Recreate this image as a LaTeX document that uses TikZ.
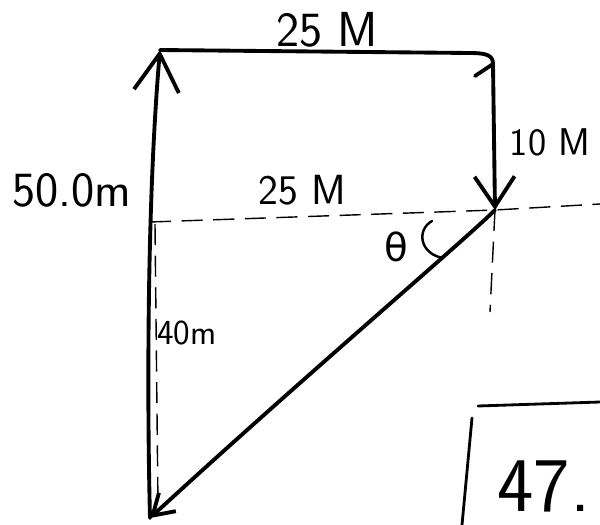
\documentclass[tikz,border=0pt]{standalone}
\usepackage{fontspec}
\newfontfamily\dejavu{DejaVu Sans}
\usetikzlibrary{arrows.meta}

\begin{document}
\begin{tikzpicture}[x=0.02cm,y=-0.02cm,
  vec/.style={line width=2.2pt, line cap=round, line join=round},
  guide/.style={line width=0.8pt, dash pattern=on 12pt off 6pt},
  lbl/.style={font=\sffamily\fontsize{#1pt}{#1pt}\selectfont, inner sep=0pt}]
\useasboundingbox (0,0) rectangle (600,525);
\coordinate (tl) at (160,50);
\coordinate (tr) at (493,64);
\coordinate (mr) at (495,210);
\coordinate (bl) at (150,518);
\coordinate (gl) at (150,222);
\coordinate (gv) at (155,224);
\coordinate (gr) at (600,204);
\coordinate (gb) at (158,505);
\coordinate (gd) at (490,312);
\coordinate (kt) at (472,418);
\coordinate (kb) at (462,525);
\coordinate (hl) at (478,406);
\coordinate (hr) at (600,402);
\draw[vec,-{Straight Barb[length=7.5mm,width=9mm]}] (bl) .. controls (147,400) and (147,200) .. (tl);
\draw[vec] (tl) -- (470,53) .. controls (488,53) and (493,56) .. (tr) -- ++(-18,12);
\draw[vec,-{Straight Barb[length=6mm,width=8mm]}] (tr) -- (mr);
\draw[vec,-{Straight Barb[length=4mm,width=5mm]}] (mr) .. controls (465,240) and (300,380) .. (bl);
\draw[guide] (gl) -- (mr) -- (gr);
\draw[guide] (gv) -- (gb);
\draw[guide] (mr) -- (gd);
\draw[vec,line width=1.4pt] (432,221) .. controls (416,230) and (420,254) .. (443,258);
\draw[vec,line width=1.6pt] (kt) -- (kb) (hl) -- (hr);
\node[lbl=28] (top) at (327,30) {25 M};
\node[lbl=22] (side) at (550,142) {10 M};
\node[lbl=28] (up) at (72,190) {50.0m};
\node[lbl=24] (mid) at (302,190) {25 M};
\node[lbl=22] (th) at (396,247) {\dejavu θ};
\node[lbl=20] (down) at (187,333) {40m};
\node[lbl=44,anchor=west] (ans) at (497,486) {47.};
\end{tikzpicture}
\end{document}
